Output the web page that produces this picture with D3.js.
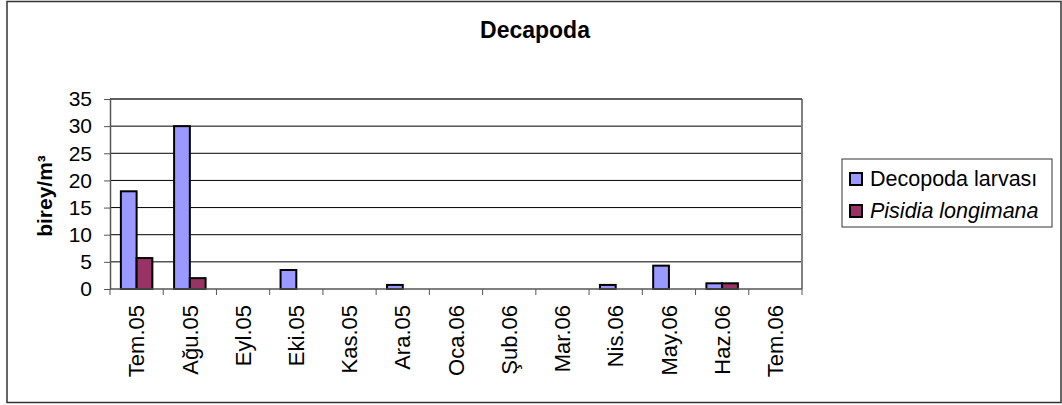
<!DOCTYPE html>
<html>
<head>
<meta charset="utf-8">
<script src="https://cdn.jsdelivr.net/npm/d3@7"></script>
<style>
  html, body { margin: 0; padding: 0; background: #fff; }
  svg { display: block; font-family: "Liberation Sans", Arial, sans-serif; }
</style>
</head>
<body>
<svg id="chart" width="1062" height="405"></svg>
<script>
// Monthly samples, July 2005 – July 2006
const months = ["Tem.05", "Ağu.05", "Eyl.05", "Eki.05", "Kas.05", "Ara.05", "Oca.06",
                "Şub.06", "Mar.06", "Nis.06", "May.06", "Haz.06", "Tem.06"];
const seriesNames = ["Decopoda larvası", "Pisidia longimana"];
const decopodaLarvasi = [18, 30, 0, 3.5, 0, 0.75, 0, 0, 0, 0.75, 4.3, 1.05, 0];
const pisidiaLongimana = [5.7, 2.0, 0, 0, 0, 0, 0, 0, 0, 0, 0, 1.05, 0];
const yTicks = [0, 5, 10, 15, 20, 25, 30, 35];

const colors = ["#9999FF", "#993366"];
const seriesValues = [decopodaLarvasi, pisidiaLongimana];

const svg = d3.select("#chart");

// outer chart frame
svg.append("rect")
  .attr("x", 7).attr("y", 1.5).attr("width", 1054).attr("height", 401)
  .attr("fill", "#fff").attr("stroke", "#333").attr("stroke-width", 1.5);

const plot = { left: 110, right: 802, top: 99, bottom: 289 };

const x = d3.scaleBand().domain(months).range([plot.left, plot.right]).paddingInner(0).paddingOuter(0);
const xs = d3.scaleBand().domain(seriesNames).range([0, x.bandwidth()]).paddingInner(0).paddingOuter(0.69);
const y = d3.scaleLinear().domain([0, 35]).range([plot.bottom, plot.top]);

// horizontal gridlines
svg.append("g").selectAll("line").data(yTicks.filter(t => t > 0)).join("line")
  .attr("x1", plot.left).attr("x2", plot.right)
  .attr("y1", d => y(d)).attr("y2", d => y(d))
  .attr("stroke", "#000").attr("stroke-width", 1);

// plot area right and top border
svg.append("line")
  .attr("x1", plot.right).attr("x2", plot.right)
  .attr("y1", plot.top).attr("y2", plot.bottom)
  .attr("stroke", "#808080").attr("stroke-width", 2);
svg.append("line")
  .attr("x1", plot.left).attr("x2", plot.right)
  .attr("y1", plot.top).attr("y2", plot.top)
  .attr("stroke", "#555").attr("stroke-width", 1.5);

// bars
const rows = months.map((m, i) => ({ month: m, values: seriesNames.map((s, j) => ({ s, j, v: seriesValues[j][i] })) }));
const groups = svg.append("g").selectAll("g").data(rows).join("g")
  .attr("transform", d => `translate(${x(d.month)},0)`);
groups.selectAll("rect").data(d => d.values.filter(e => e.v > 0)).join("rect")
  .attr("x", e => xs(e.s))
  .attr("width", xs.bandwidth())
  .attr("y", e => y(e.v))
  .attr("height", e => y(0) - y(e.v))
  .attr("fill", e => colors[e.j])
  .attr("stroke", "#000").attr("stroke-width", 2);

// y axis
const yAxis = svg.append("g")
  .attr("transform", `translate(${plot.left},0)`)
  .call(d3.axisLeft(y).tickValues(yTicks).tickSize(6).tickPadding(12).tickSizeOuter(0));
yAxis.select(".domain").attr("stroke", "#555").attr("stroke-width", 1.5);
yAxis.selectAll(".tick line").attr("stroke", "#555");
yAxis.selectAll("text").attr("font-size", 21).attr("fill", "#000")
  .attr("font-family", "'Liberation Sans', Arial, sans-serif");

// x axis with ticks at category boundaries
const xAxis = svg.append("g").attr("transform", `translate(0,${plot.bottom})`);
xAxis.append("line").attr("x1", plot.left).attr("x2", plot.right)
  .attr("stroke", "#555").attr("stroke-width", 1.5);
const bounds = months.map(m => x(m)).concat([plot.right]);
xAxis.selectAll("line.tk").data(bounds).join("line").attr("class", "tk")
  .attr("x1", d => d).attr("x2", d => d).attr("y1", 0).attr("y2", 6)
  .attr("stroke", "#555").attr("stroke-width", 1);
xAxis.selectAll("text").data(months).join("text")
  .attr("transform", d => `translate(${x(d) + x.bandwidth() / 2},16) rotate(-90)`)
  .attr("text-anchor", "end").attr("dy", "0.35em")
  .attr("font-size", 22).attr("fill", "#000")
  .text(d => d);

// title
svg.append("text").attr("x", 535).attr("y", 38).attr("text-anchor", "middle")
  .attr("font-size", 23).attr("font-weight", "bold").text("Decapoda");

// y axis title
svg.append("text")
  .attr("transform", "translate(52,196) rotate(-90)")
  .attr("text-anchor", "middle").attr("font-size", 21).attr("font-weight", "bold")
  .text("birey/m³");

// legend
const legend = svg.append("g");
legend.append("rect").attr("x", 842).attr("y", 159).attr("width", 210).attr("height", 68)
  .attr("fill", "#fff").attr("stroke", "#333").attr("stroke-width", 1);
const items = legend.selectAll("g").data(seriesNames).join("g")
  .attr("transform", (d, i) => `translate(850,${173 + i * 32})`);
items.append("rect").attr("width", 12).attr("height", 12)
  .attr("fill", (d, i) => colors[i]).attr("stroke", "#000").attr("stroke-width", 2);
items.append("text").attr("x", 20).attr("y", 12.5)
  .attr("font-size", 21.5)
  .attr("font-style", (d, i) => i === 1 ? "italic" : "normal")
  .text(d => d);
</script>
</body>
</html>
